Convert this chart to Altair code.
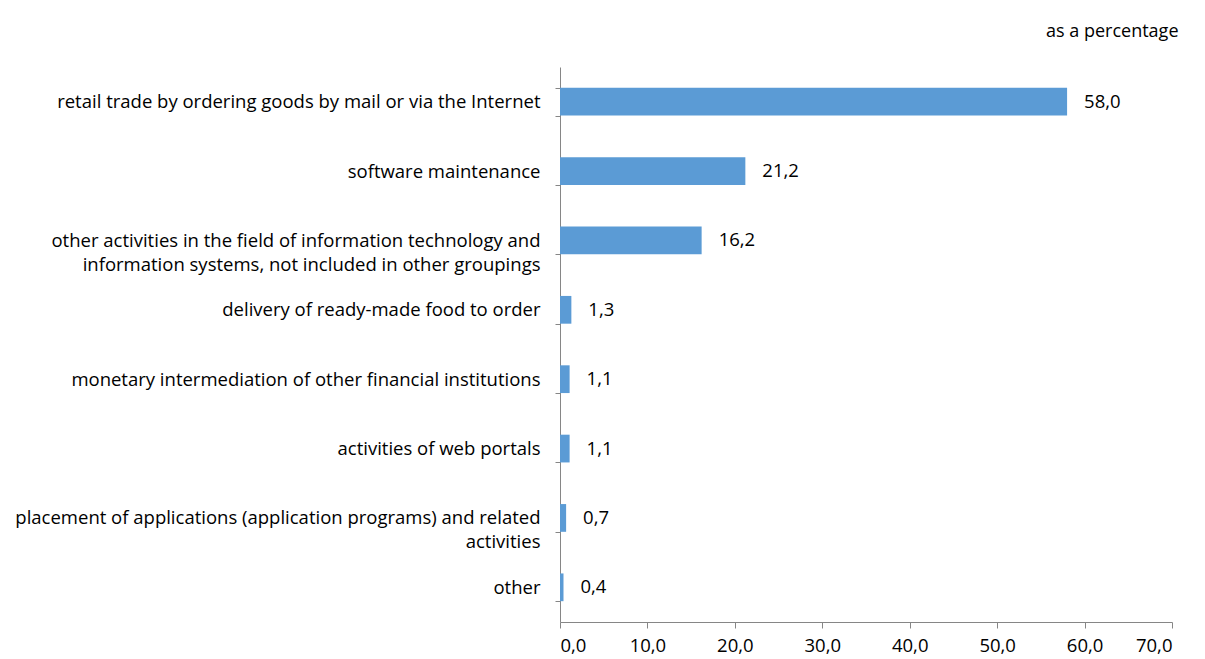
import altair as alt
import pandas as pd

categories = [
    "retail trade by ordering goods by mail or via the Internet",
    "software maintenance",
    "other activities in the field of information technology and|information systems, not included in other groupings",
    "delivery of ready-made food to order",
    "monetary intermediation of other financial institutions",
    "activities of web portals",
    "placement of applications (application programs) and related|activities",
    "other",
]
values = [58.0, 21.2, 16.2, 1.3, 1.1, 1.1, 0.7, 0.4]

df = pd.DataFrame({"cat": categories, "v": values})

FONT = "Open Sans"
FS = 18.5
AXC = "#868686"

base = alt.Chart(df).transform_calculate(
    lab="replace(format(datum.v, '.1f'), '.', ',')"
)

y = alt.Y(
    "cat:N",
    sort=categories,
    scale=alt.Scale(paddingInner=0.6, paddingOuter=0.3),
    axis=alt.Axis(
        title=None,
        labelExpr="split(datum.label, '|')",
        tickBand="extent",
        labelFontSize=FS,
        labelFont=FONT,
        labelColor="#000000",
        domainColor=AXC,
        tickColor=AXC,
        tickSize=5,
        labelPadding=15,
        labelLimit=800,
        labelLineHeight=24,
    ),
)

x = alt.X(
    "v:Q",
    scale=alt.Scale(domain=[0, 70], nice=False),
    axis=alt.Axis(
        title=None,
        values=[0, 10, 20, 30, 40, 50, 60, 70],
        labelExpr="replace(format(datum.value, '.1f'), '.', ',')",
        grid=False,
        labelFontSize=FS,
        labelFont=FONT,
        labelColor="#000000",
        domainColor=AXC,
        tickColor=AXC,
        tickSize=6,
        labelPadding=8,
    ),
)

bars = base.mark_bar(color="#5B9BD5").encode(x=x, y=y)
texts = base.mark_text(align="left", dx=17, fontSize=FS, font=FONT, color="#000000").encode(
    x="v:Q", y=alt.Y("cat:N", sort=categories), text="lab:N"
)

chart = (
    alt.layer(bars, texts)
    .properties(
        width=612,
        height=555,
        padding={"left": 6, "top": 15, "right": 5, "bottom": 0},
        title=alt.TitleParams(
            "as a percentage",
            anchor="end",
            fontSize=18,
            fontWeight="normal",
            font=FONT,
            color="#000000",
            offset=17,
            dx=6,
        ),
    )
    .configure_view(stroke=None)
)

chart.save("out.html", embed_options={"renderer": "svg", "actions": False})
